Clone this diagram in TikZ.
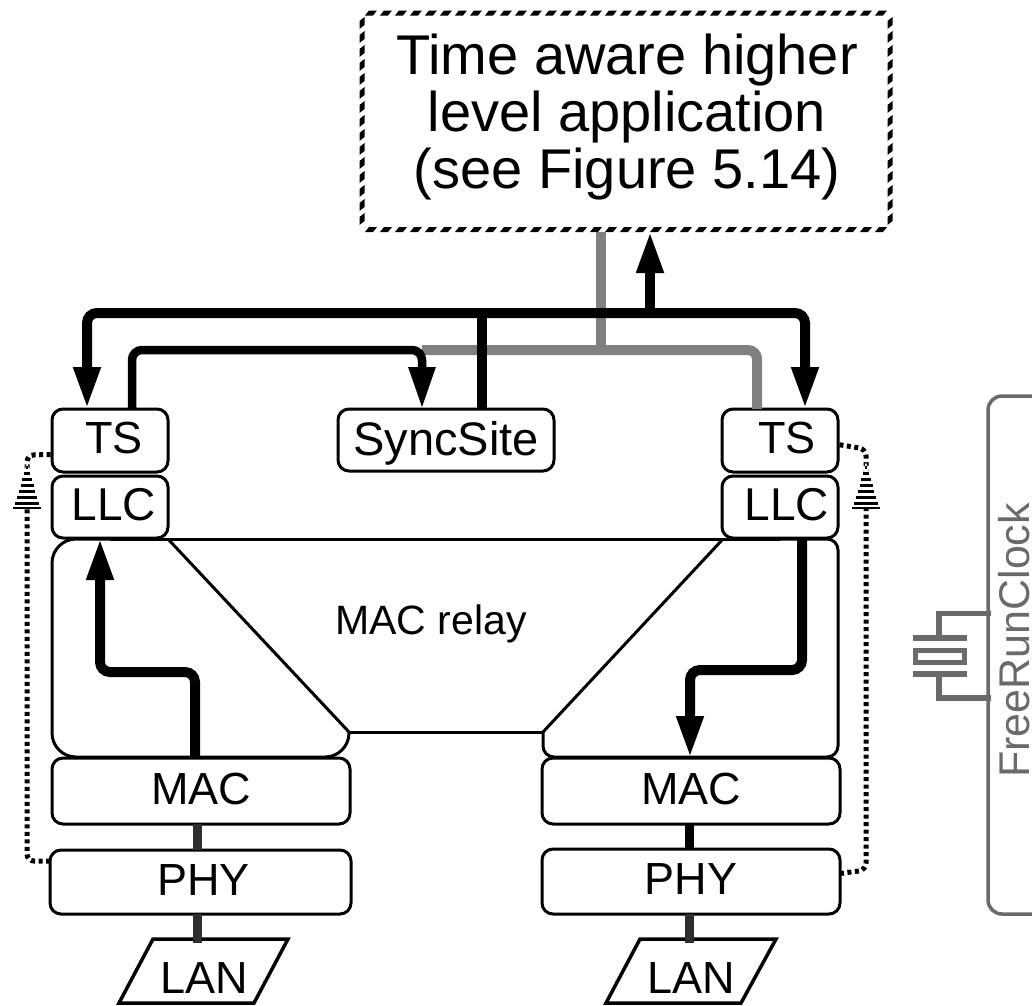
\documentclass[tikz,border=0pt]{standalone}
\usepackage{fontspec}
\setmainfont{Liberation Sans}
\usetikzlibrary{arrows.meta,calc}
\definecolor{lineGray}{HTML}{808080}
\definecolor{clockGray}{HTML}{6A6A6A}
\definecolor{stubDark}{HTML}{2E2E2E}
\tikzset{
  blk/.style={draw=black,rounded corners=11pt,line width=3pt,inner sep=0pt,outer sep=0pt,font=\fontsize{45}{50}\selectfont,text height=32pt,text depth=6pt},
  hw/.style={line width=10pt,rounded corners=10pt,draw=black},
  hwa/.style={hw,-{Triangle[length=42pt,width=25pt]}},
  gw/.style={line width=10pt,rounded corners=9pt,draw=lineGray},
  stub/.style={line width=9pt,draw=stubDark},
  dots/.style={line width=5pt,draw=black,dash pattern=on 4pt off 3.5pt,rounded corners=7pt},
  clk/.style={draw=clockGray,line width=5.5pt},
}
\begin{document}
\begin{tikzpicture}[x=1pt,y=-1pt]
\useasboundingbox (0,0) rectangle (1032,1005);
% top box
\node[inner sep=0pt,outer sep=0pt,minimum width=528pt,minimum height=216pt,align=center,font=\fontsize{56}{57}\selectfont] (app) at (627,117) {Time aware higher\\level application\\(see Figure 5.14)};
\foreach \xx in {365,380,...,880}{
  \fill (\xx,15.5) -- (\xx+8,15.5) -- (\xx+12,10.5) -- (\xx+4,10.5) -- cycle;
  \fill (\xx,232) -- (\xx+8,232) -- (\xx+12,227) -- (\xx+4,227) -- cycle;
}
\foreach \yy in {17,31,...,220}{
  \fill (359.5,\yy+4) -- (364.5,\yy) -- (364.5,\yy+8) -- (359.5,\yy+12) -- cycle;
  \fill (887.5,\yy+4) -- (892.5,\yy) -- (892.5,\yy+8) -- (887.5,\yy+12) -- cycle;
}
% relay outline
\draw[line width=3pt,rounded corners=24pt] (110,539) -- (52,539) -- (52,757) -- (349,757) -- (349,732);
\draw[line width=3pt] (110,539) -- (780,539);
\draw[line width=3pt,rounded corners=11pt] (780,539) -- (838,539) -- (838,757) -- (543,757) -- (543,732);
\draw[line width=3pt] (349,732) -- (543,732);
\draw[line width=3pt] (168,539) -- (349,732);
\draw[line width=3pt] (723,539) -- (543,732);
\node[font=\fontsize{41}{46}\selectfont,inner sep=0pt] (relay) at (431,624) {MAC relay};
% boxes
\node[blk,minimum width=116pt,minimum height=63pt] (tsL) at (110,440.5) {\hspace*{8pt}TS};
\node[blk,minimum width=116pt,minimum height=62pt] (llcL) at (110,507) {\hspace*{8pt}\fontsize{46}{50}\selectfont LLC};
\node[blk,minimum width=216pt,minimum height=62pt,text depth=2pt] (sync) at (446,440) {\fontsize{47}{50}\selectfont SyncSite};
\node[blk,minimum width=116pt,minimum height=63pt] (tsR) at (780,440.5) {\hspace*{14pt}TS};
\node[blk,minimum width=116pt,minimum height=62pt] (llcR) at (780,507) {\hspace*{14pt}\fontsize{46}{50}\selectfont LLC};
\node[blk,minimum width=298pt,minimum height=66pt] (macL) at (201,791) {MAC};
\node[blk,minimum width=301pt,minimum height=64pt] (phyL) at (200.5,882) {\hspace*{6pt}PHY};
\node[blk,minimum width=298pt,minimum height=66pt] (macR) at (691,791) {MAC};
\node[blk,minimum width=298pt,minimum height=65pt] (phyR) at (691,881.5) {PHY};
% LAN
\draw[line width=3.5pt,line join=miter] (153,939) -- (288,939) -- (254,1003) -- (119,1003) -- cycle;
\node[font=\fontsize{45}{50}\selectfont,inner sep=0pt,text height=32pt,text depth=0pt] (lanL) at (204,977) {LAN};
\draw[line width=3.5pt,line join=miter] (640,939) -- (776,939) -- (741,1003) -- (606,1003) -- cycle;
\node[font=\fontsize{45}{50}\selectfont,inner sep=0pt,text height=32pt,text depth=0pt] (lanR) at (691,977) {LAN};
% stubs
\coordinate (sx) at (197,0);
\coordinate (rx) at (689,0);
\coordinate (lanTopL) at (197,943);
\coordinate (lanTopR) at (689,943);
\draw[stub] (macL.south -| sx) -- (phyL.north -| sx);
\draw[stub] (phyL.south -| sx) -- (lanTopL);
\draw[stub,draw=black] (macR.south -| rx) -- (phyR.north -| rx);
\draw[stub] (phyR.south -| rx) -- (lanTopR);
% gray connectors
\coordinate (grayTop) at (601,232);
\coordinate (grayJ) at (601,350);
\coordinate (grayL) at (422,350);
\coordinate (grayR) at (757,350);
\draw[gw] (grayTop) -- (grayJ);
\draw[gw] (grayL) -- (grayR) -- (tsR.north -| grayR);
% black bus
\coordinate (busL) at (87,313);
\coordinate (busM) at (482,313);
\coordinate (busR) at (805,313);
\coordinate (busUp) at (650,313);
\coordinate (appIn) at (650,231);
\draw[hwa] (busM) -- (busL) -- (tsL.north -| busL);
\draw[hwa] (busM) -- (busR) -- (tsR.north -| busR);
\draw[hw] (sync.north -| busM) -- (busM);
\draw[hwa,rounded corners=0pt] (busUp) -- (appIn);
% TS to SyncSite
\coordinate (syA) at (132,350);
\coordinate (syB) at (422,350);
\draw[hwa,line width=8.5pt] (tsL.north -| syA) -- (syA) -- (syB) -- (sync.north -| syB);
% MAC to LLC left
\coordinate (lA) at (195,672);
\coordinate (lB) at (100,672);
\draw[hwa] (macL.north -| lA) -- (lA) -- (lB) -- (llcL.south -| lB);
% LLC to MAC right
\coordinate (rA) at (802,670);
\coordinate (rB) at (690,670);
\draw[hwa] (llcR.south -| rA) -- (rA) -- (rB) -- (macR.north -| rB);
% dotted left
\coordinate (dlT) at (27,455);
\coordinate (dlB) at (27,861);
\coordinate (dlTs) at ($(tsL.west)+(0,14)$);
\coordinate (dlPhy) at ($(phyL.west)+(0,-21)$);
\draw[dots] (dlPhy) -- (dlB) -- (dlT) -- (dlTs);
% dotted right
\coordinate (drT) at (866,449);
\coordinate (drB) at (866,870);
\coordinate (drTs) at ($(tsR.east)+(0,4)$);
\coordinate (drPhy) at ($(phyR.east)+(0,-8)$);
\draw[dots] (drPhy) -- (drB) -- (drT) -- (drTs);
% striped arrowheads
\foreach \cx in {27,866}{
  \fill[white] (\cx-13,508) -- (\cx,462) -- (\cx+13,508) -- cycle;
  \foreach \yy in {467,473,...,503}{
    \draw[line width=3pt] ({\cx-(\yy-462)*13/46},\yy) -- ({\cx+(\yy-462)*13/46},\yy);
  }
  \draw[line width=2pt] (\cx-14,508) -- (\cx+14,508);
}
% clock
\draw[draw=clockGray,line width=3.5pt,rounded corners=14pt] (1032,396) -- (988,396) -- (988,914) -- (1032,914);
\node[rotate=90,anchor=south west,text=clockGray,font=\fontsize{43}{48}\selectfont,inner sep=0pt] (frc) at (1030,778) {FreeRunClock};
\coordinate (wT) at (991,613.5);
\coordinate (wB) at (991,698);
\coordinate (wX) at (939,0);
\coordinate (plateT) at (939,638);
\coordinate (plateB) at (939,674);
\draw[clk,line join=miter] (wT) -- (wT -| wX) -- (plateT);
\draw[clk,line join=miter] (wB) -- (wB -| wX) -- (plateB);
\draw[clk] (913,638) -- (967,638);
\draw[clk] (913,674) -- (967,674);
\draw[clk] (915.5,650.7) rectangle (964.5,662.3);
\end{tikzpicture}
\end{document}
